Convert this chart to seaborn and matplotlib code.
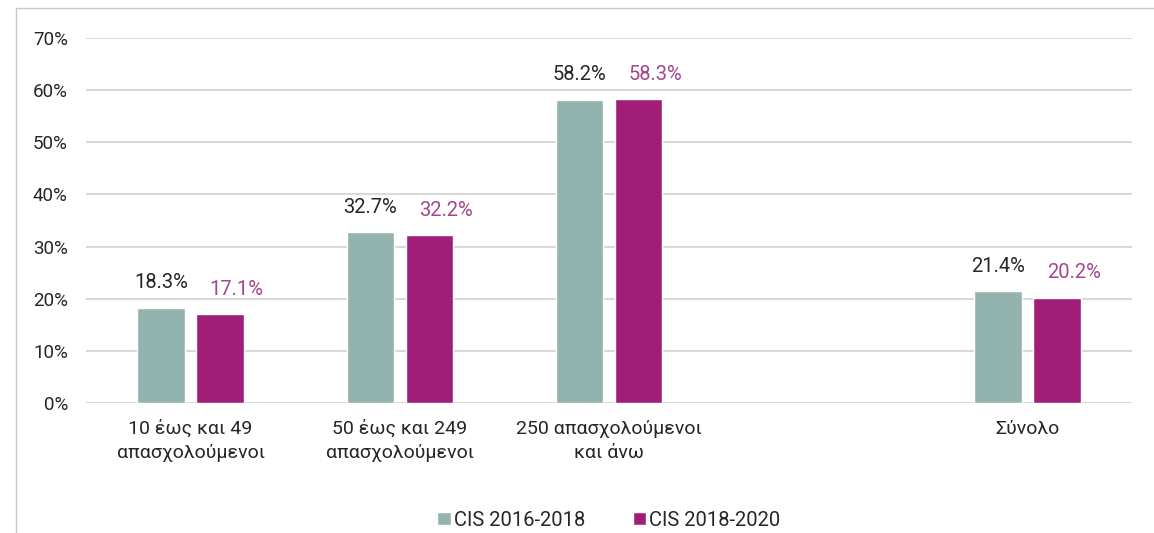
import matplotlib
matplotlib.use("Agg")
import matplotlib.pyplot as plt
import seaborn as sns
import pandas as pd
from matplotlib import ticker
from matplotlib.lines import Line2D

# data
categories = ["10 έως και 49\nαπασχολούμενοι",
              "50 έως και 249\nαπασχολούμενοι",
              "250 απασχολούμενοι\nκαι άνω",
              "Σύνολο"]
series = ["CIS 2016-2018", "CIS 2018-2020"]
cis_2016_2018 = [18.3, 32.7, 58.2, 21.4]
cis_2018_2020 = [17.1, 32.2, 58.3, 20.2]
y_ticks = [0, 10, 20, 30, 40, 50, 60, 70]

TEAL = "#93b3ae"
MAGENTA = "#a01e78"
LABEL_COLORS = ["#262626", "#a3468e"]
GRID = "#d9d9d9"

df = pd.DataFrame({
    "category": categories * 2,
    "series": [series[0]] * 4 + [series[1]] * 4,
    "value": cis_2016_2018 + cis_2018_2020,
})

# blank slot between the size groups and the total
order = categories[:3] + [" "] + categories[3:]

sns.set_style("white")
plt.rcParams["font.family"] = ["Roboto", "DejaVu Sans"]

fig = plt.figure(figsize=(11.54, 5.33), dpi=100)
ax = fig.add_axes([0.0745, 0.2439, 0.9065, 0.6848])

sns.barplot(
    data=df, x="category", y="value", hue="series",
    order=order, hue_order=series,
    palette=[TEAL, MAGENTA], width=0.565, gap=0.2,
    saturation=1, ax=ax, legend=True,
)

ax.set_xlim(-0.5, 4.5)
ax.set_ylim(0, 70)
ax.set_yticks(y_ticks)
ax.yaxis.set_major_formatter(ticker.FuncFormatter(lambda v, p: f"{v:.0f}%"))
ax.grid(axis="y", color=GRID, linewidth=1.5, zorder=0)
ax.set_axisbelow(True)
for s in ax.spines.values():
    s.set_visible(False)
ax.tick_params(axis="y", length=0, pad=13, labelsize=13.5, labelcolor="#262626")
ax.tick_params(axis="x", length=0, pad=12, labelsize=14, labelcolor="#262626")
for lbl in ax.get_xticklabels():
    lbl.set_linespacing(1.45)
ax.set_xlabel("")
ax.set_ylabel("")

# value labels above bars
dxs = [0, 12]
for i, cont in enumerate(ax.containers):
    for bar in cont:
        h = bar.get_height()
        if not h == h:
            continue
        ax.annotate(f"{h:.1f}%", (bar.get_x() + bar.get_width() / 2, h),
                    xytext=(dxs[i], 11), textcoords="offset points",
                    ha="center", va="bottom", fontsize=14.5,
                    color=LABEL_COLORS[i])

handles, labels = ax.get_legend_handles_labels()
ax.legend(handles, labels, loc="upper center", bbox_to_anchor=(0.5, -0.245),
          ncol=2, frameon=False, fontsize=14.5, handlelength=0.65,
          handleheight=0.65, handletextpad=0.15, columnspacing=2.4)

# thin frame at left and top of the picture
fig.add_artist(Line2D([16 / 1154, 16 / 1154], [0, 1 - 8 / 533],
                      transform=fig.transFigure, color="#c8c8c8", lw=1))
fig.add_artist(Line2D([16 / 1154, 1], [1 - 8 / 533, 1 - 8 / 533],
                      transform=fig.transFigure, color="#c8c8c8", lw=1))

fig.savefig("out.png", dpi=100)
